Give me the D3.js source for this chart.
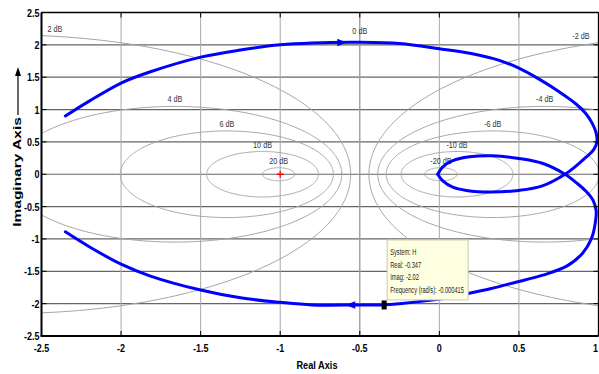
<!DOCTYPE html>
<meta charset="utf-8">
<style>
body { margin: 0; background: #fff; }
svg { display: block; }
text { font-family: "Liberation Sans", Arial, sans-serif; }
</style>
<svg width="599" height="374"></svg>
<script src="https://d3js.org/d3.v7.min.js"></script>
<script>

// axis ticks
var xTicks = [-2.5, -2, -1.5, -1, -0.5, 0, 0.5, 1];
var yTicks = [-2.5, -2, -1.5, -1, -0.5, 0, 0.5, 1, 1.5, 2, 2.5];

// M-circle levels (closed loop magnitude, dB)
var dbLevels = [20, 10, 6, 4, 2, 0, -2, -4, -6, -10, -20];

// nyquist curve, positive frequencies (upper outer arc, then lower half of the inner loop)
var upperRe = [-2.35, -2.2, -2.0, -1.82, -1.5, -1.25, -1.0, -0.8, -0.5, -0.25, 0.0, 0.2, 0.376, 0.5, 0.627, 0.75, 0.857, 0.92, 0.96, 0.985, 0.99, 0.97, 0.92, 0.86, 0.79, 0.647, 0.5, 0.32, 0.17, 0.084, 0.02, -0.01];
var upperIm = [0.90, 1.13, 1.41, 1.58, 1.81, 1.92, 2.0, 2.03, 2.04, 2.02, 1.94, 1.865, 1.76, 1.64, 1.47, 1.28, 1.09, 0.94, 0.79, 0.64, 0.5, 0.38, 0.26, 0.13, 0.0, -0.18, -0.25, -0.275, -0.25, -0.2, -0.1, 0.0];

// negative frequencies, from the inner loop out to the lower left end
var lowerRe = [-0.01, 0.02, 0.084, 0.19, 0.335, 0.5, 0.647, 0.79, 0.86, 0.92, 0.965, 0.985, 0.98, 0.955, 0.9, 0.8, 0.65, 0.48, 0.32, 0.167, 0.0, -0.25, -0.357, -0.5, -0.8, -1.0, -1.25, -1.5, -1.82, -2.0, -2.2, -2.35];
var lowerIm = [0.0, 0.11, 0.21, 0.27, 0.285, 0.245, 0.17, 0.0, -0.13, -0.26, -0.4, -0.56, -0.75, -1.0, -1.22, -1.42, -1.56, -1.67, -1.77, -1.85, -1.93, -2.0, -2.02, -2.02, -2.02, -1.98, -1.91, -1.79, -1.57, -1.39, -1.12, -0.89];

// direction arrows (real part where they sit)
var arrowUpperRe = -0.61;
var arrowLowerRe = -0.56;

// data tip
var tipRe = -0.347, tipIm = -2.02;
var tipLines = ["System: H", "Real: -0.347", "Imag: -2.02", "Frequency (rad/s): -0.000415"];

var svg = d3.select("svg");

var x = d3.scaleLinear().domain([-2.5, 1]).range([41.5, 598.5]);
var y = d3.scaleLinear().domain([-2.5, 2.5]).range([336, 12.5]);

function txt(parent, px, py, s, size, weight, anchor, sx, fill) {
  return parent.append("text")
    .attr("transform", "translate(" + px + "," + py + ") scale(" + sx + ",1)")
    .attr("text-anchor", anchor)
    .style("font-size", size + "px")
    .style("font-weight", weight)
    .attr("fill", fill)
    .text(s);
}

svg.append("clipPath").attr("id", "plotclip")
  .append("rect")
  .attr("x", x(-2.5)).attr("y", y(2.5))
  .attr("width", x(1) - x(-2.5)).attr("height", y(-2.5) - y(2.5));

// grid
var grid = svg.append("g");
grid.selectAll(".hg").data(yTicks.slice(1, -1)).enter().append("line")
  .attr("x1", x(-2.5)).attr("x2", x(1))
  .attr("y1", function(d) { return y(d); }).attr("y2", function(d) { return y(d); })
  .attr("stroke", "#666").attr("stroke-width", 1.2);
grid.selectAll(".vg").data(xTicks.slice(1, -1)).enter().append("line")
  .attr("y1", y(2.5)).attr("y2", y(-2.5))
  .attr("x1", function(d) { return x(d); }).attr("x2", function(d) { return x(d); })
  .attr("stroke", "#a8a8a8").attr("stroke-width", 1);

// M circles
var mg = svg.append("g").attr("clip-path", "url(#plotclip)");
var angles = d3.range(0, 361).map(function(a) { return a * Math.PI / 180; });
var labels = svg.append("g");

dbLevels.forEach(function(db) {
  var lx, ly, anchor, dx = 0;
  if (db === 0) {
    mg.append("line")
      .attr("x1", x(-0.5)).attr("x2", x(-0.5))
      .attr("y1", y(2.5)).attr("y2", y(-2.5))
      .attr("stroke", "#9a9a9a").attr("stroke-width", 1);
    txt(labels, x(-0.5), y(2.5) + 21, "0 dB", 8.5, "normal", "middle", 0.85, "#333");
    return;
  }
  var M = Math.pow(10, db / 20);
  var c = -M * M / (M * M - 1);
  var r = Math.abs(M / (M * M - 1));
  var line = d3.line()
    .x(function(t) { return x(c + r * Math.cos(t)); })
    .y(function(t) { return y(r * Math.sin(t)); });
  mg.append("path").attr("d", line(angles))
    .attr("fill", "none").attr("stroke", "#a5a5a5").attr("stroke-width", 1);

  if (c < -2.5) {
    lx = -2.5; anchor = "start"; dx = 6;
  } else if (c > 1) {
    lx = 1; anchor = "end"; dx = -9;
  } else {
    lx = c; anchor = "middle";
  }
  ly = Math.sqrt(r * r - (lx - c) * (lx - c));
  txt(labels, x(lx) + dx, y(ly) - 4, db + " dB", 8.5, "normal", anchor, 0.85, "#333");
});

// critical point
svg.append("path")
  .attr("d", "M" + (x(-1) - 3.5) + "," + y(0) + "h7M" + x(-1) + "," + (y(0) - 3.5) + "v7")
  .attr("stroke", "#ff0000").attr("stroke-width", 1.3);

// nyquist curve
var cg = svg.append("g").attr("clip-path", "url(#plotclip)");
var nline = d3.line()
  .x(function(d) { return x(d[0]); })
  .y(function(d) { return y(d[1]); })
  .curve(d3.curveCatmullRom.alpha(0.5));

var upperPts = d3.zip(upperRe, upperIm);
var lowerPts = d3.zip(lowerRe, lowerIm);
[upperPts, lowerPts].forEach(function(pts) {
  cg.append("path").attr("d", nline(pts))
    .attr("fill", "none").attr("stroke", "#0000ff")
    .attr("stroke-width", 3).attr("stroke-linecap", "round").attr("stroke-linejoin", "round");
});

function arrowOn(pts, re) {
  for (var i = 0; i < pts.length - 1; i++) {
    var a = pts[i], b = pts[i + 1];
    if ((a[0] - re) * (b[0] - re) <= 0 && Math.abs(a[1]) > 1.5) {
      var t = (re - a[0]) / (b[0] - a[0]);
      var px = x(re), py = y(a[1] + t * (b[1] - a[1]));
      var ang = Math.atan2(y(b[1]) - y(a[1]), x(b[0]) - x(a[0])) * 180 / Math.PI;
      svg.append("path")
        .attr("d", "M4.5,0L-5,-3.8L-5,3.8Z")
        .attr("transform", "translate(" + px + "," + py + ") rotate(" + ang + ")")
        .attr("fill", "#0000ff");
      return;
    }
  }
}
arrowOn(upperPts, arrowUpperRe);
arrowOn(lowerPts, arrowLowerRe);

// data tip
var tx = x(tipRe), ty = y(tipIm);
var tip = svg.append("g");
tip.append("rect")
  .attr("x", tx + 3).attr("y", ty - 65)
  .attr("width", 81).attr("height", 60)
  .attr("fill", "#ffffe1").attr("stroke", "#c8c8b4").attr("stroke-width", 1);
tipLines.forEach(function(s, i) {
  txt(tip, tx + 6, ty - 65 + 15.5 + i * 12.4, s, 9.5, "normal", "start", 0.6, "#222");
});
tip.append("rect")
  .attr("x", tx - 2.5).attr("y", ty - 4.5)
  .attr("width", 5).attr("height", 9)
  .attr("fill", "#000");

// frame and ticks
var frame = svg.append("g");
frame.append("line").attr("x1", x(-2.5)).attr("x2", x(1)).attr("y1", y(2.5)).attr("y2", y(2.5))
  .attr("stroke", "#000").attr("stroke-width", 1.3);
frame.append("line").attr("x1", x(1)).attr("x2", x(1)).attr("y1", y(2.5)).attr("y2", y(-2.5))
  .attr("stroke", "#000").attr("stroke-width", 1.3);
frame.append("line").attr("x1", x(-2.5) - 1).attr("x2", x(1)).attr("y1", y(-2.5)).attr("y2", y(-2.5))
  .attr("stroke", "#000").attr("stroke-width", 2);
frame.append("line").attr("x1", x(-2.5)).attr("x2", x(-2.5)).attr("y1", y(2.5)).attr("y2", y(-2.5))
  .attr("stroke", "#000").attr("stroke-width", 2);

xTicks.forEach(function(v, i) {
  frame.append("path").attr("d", "M" + x(v) + "," + y(-2.5) + "v-5M" + x(v) + "," + y(2.5) + "v5")
    .attr("stroke", "#000").attr("stroke-width", 1);
  var last = i === xTicks.length - 1;
  txt(frame, last ? x(v) - 0.5 : x(v), y(-2.5) + 16, String(v), 11.5, "bold", last ? "end" : "middle", 0.78, "#000");
});
yTicks.forEach(function(v) {
  frame.append("path").attr("d", "M" + x(-2.5) + "," + y(v) + "h5M" + x(1) + "," + y(v) + "h-5")
    .attr("stroke", "#000").attr("stroke-width", 1);
  txt(frame, x(-2.5) - 2, y(v) + 4, String(v), 11.5, "bold", "end", 0.78, "#000");
});

// axis titles
txt(svg, x(-0.75) - 3, 369, "Real Axis", 11.5, "bold", "middle", 0.8, "#000");

svg.append("text")
  .attr("transform", "translate(21,172) rotate(-90) scale(1,0.75)")
  .attr("text-anchor", "middle")
  .style("font-size", "15.5px").style("font-weight", "bold")
  .text("Imaginary Axis");
svg.append("line").attr("x1", 18).attr("x2", 18).attr("y1", 115).attr("y2", 72)
  .attr("stroke", "#000").attr("stroke-width", 1.2);
svg.append("path").attr("d", "M18,67L15,76L21,76Z").attr("fill", "#000");

</script>
